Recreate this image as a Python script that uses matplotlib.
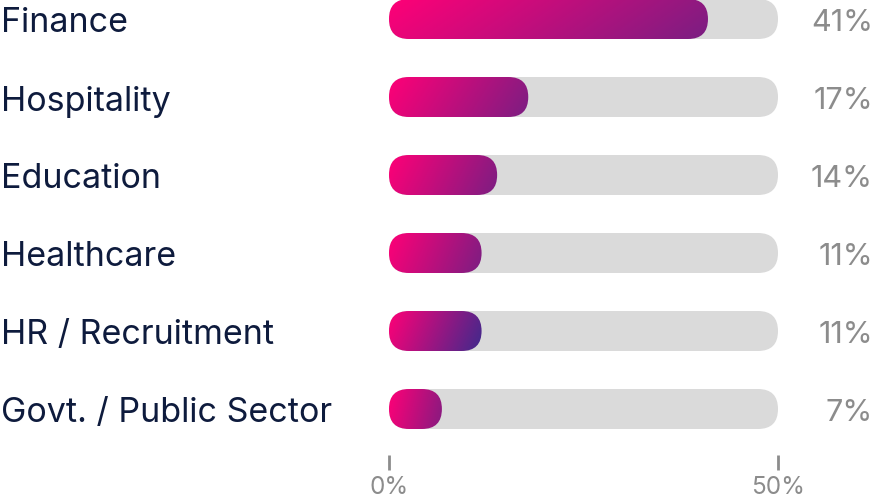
import numpy as np
import matplotlib.pyplot as plt
from matplotlib.patches import FancyBboxPatch
from matplotlib.colors import to_rgb
from matplotlib.transforms import blended_transform_factory

categories = ["Finance", "Hospitality", "Education", "Healthcare",
              "HR / Recruitment", "Govt. / Public Sector"]
labels = [41, 17, 14, 11, 11, 7]
# bar lengths (percent)
bar_values = [41.0, 17.9, 13.9, 11.9, 11.9, 6.8]
track_max = 50
ticks = [0, 50]
tick_labels = ["0%", "50%"]

plt.rcParams['font.family'] = ['Inter', 'DejaVu Sans']

W, H = 874, 502
fig = plt.figure(figsize=(W/100, H/100), dpi=100)

# axes placed in pixels: x from 389 to 778, y from 0 (top) to 456
x0, x1 = 389, 778
ytop, ybot = 0, 456
row = 78.0
first_center = 20.0
ax = fig.add_axes([x0/W, (H-ybot)/H, (x1-x0)/W, (ybot-ytop)/H])
ylo = (ybot - first_center)/row
yhi = (ytop - first_center)/row

px_x = (x1-x0)/track_max      # px per x unit
px_y = row                    # px per y unit
bar_h = 40/px_y
rad = 20/px_x
aspect = px_x/px_y

start = np.array(to_rgb("#FF0077"))
ends = ["#7B1E82", "#7B1E82", "#7B1E82", "#7B1E82", "#3F2A8C", "#861B80"]
lab_tr = blended_transform_factory(fig.transFigure, ax.transData)

for i, (cat, v) in enumerate(zip(categories, bar_values)):
    track = FancyBboxPatch((0, i-bar_h/2), track_max, bar_h,
                           boxstyle=f"round,pad=0,rounding_size={rad}",
                           mutation_aspect=aspect, fc="#DADADA", ec="none")
    ax.add_patch(track)
    bar = FancyBboxPatch((0, i-bar_h/2), v, bar_h,
                         boxstyle=f"round,pad=0,rounding_size={rad}",
                         mutation_aspect=aspect, fc="none", ec="none")
    ax.add_patch(bar)
    nx, ny = 200, 40
    xf = np.linspace(0, 1, nx)[None, :]
    yf = np.linspace(0, 1, ny)[:, None]
    t = np.clip(0.85*xf + 0.15*yf, 0, 1)[..., None]
    end = np.array(to_rgb(ends[i]))
    img = start*(1-t) + end*t
    im = ax.imshow(img, extent=[0, v, i+bar_h/2, i-bar_h/2], aspect='auto',
                   interpolation='bilinear', zorder=3)
    im.set_clip_path(bar)

    ax.text(1/W, i, cat, transform=lab_tr, ha='left', va='center_baseline',
            fontsize=24.5, color="#0E1B3D")
    ax.text(873/W, i, f"{labels[i]}%", transform=lab_tr, ha='right',
            va='center_baseline', fontsize=22, color="#8C8C8C")

ax.set_xlim(0, track_max)
ax.set_ylim(ylo, yhi)
for s in ax.spines.values():
    s.set_visible(False)
ax.set_yticks([])
ax.set_xticks(ticks)
ax.set_xticklabels(tick_labels)
ax.tick_params(axis='x', direction='out', length=10.5, width=2, color="#8C8C8C",
               labelsize=17.5, labelcolor="#8C8C8C", pad=4)
ax.patch.set_visible(False)

fig.savefig("out.png", dpi=100)
